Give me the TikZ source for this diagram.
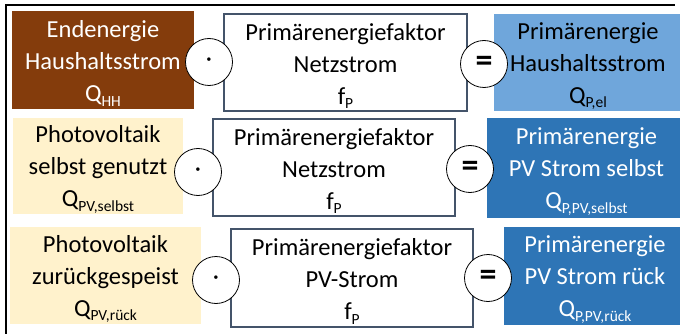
\documentclass[tikz,border=0pt]{standalone}
\usepackage{fontspec}
\setmainfont{Carlito}
\definecolor{brownbox}{HTML}{843C0C}
\definecolor{creambox}{HTML}{FFF2CC}
\definecolor{lightbluebox}{HTML}{6FA6DB}
\definecolor{bluebox}{HTML}{2E75B6}
\definecolor{frameline}{HTML}{44546A}
\newcommand\lowsub[1]{\raisebox{-4.5pt}{\fontsize{15.5}{15.5}\selectfont #1}}
\tikzset{
  box/.style={rectangle, inner sep=0pt},
  boxtext/.style={inner sep=0pt, align=center, font=\fontsize{24.5}{32}\selectfont},
  brownstyle/.style={box, fill=brownbox},
  creamstyle/.style={box, fill=creambox},
  lbluestyle/.style={box, fill=lightbluebox},
  bluestyle/.style={box, fill=bluebox},
  factorbox/.style={box, fill=white, draw=frameline, line width=1.1pt},
  opcircle/.style={circle, draw=black, fill=white, line width=0.8pt, minimum size=47pt, inner sep=0pt},
}
\begin{document}
\begin{tikzpicture}[x=1pt,y=-1pt]
\useasboundingbox (0,0) rectangle (680,334);
\clip (0,0) rectangle (680,334);
\fill[white] (0,0) rectangle (680,334);
% outer frame
\draw[line width=1.8pt] (6,345) -- (6,5) -- (675,5);
% Row 1
\node[brownstyle, minimum width=182pt, minimum height=98pt] (a1) at (103,60) {};
\node[boxtext, text=white] (a1t) at ([yshift=-3.5pt]a1.center) {Endenergie\\Haushaltsstrom\\Q\lowsub{HH}};
\node[factorbox, minimum width=243pt, minimum height=97pt] (b1) at (345.5,62.5) {};
\node[boxtext] (b1t) at ([yshift=-3.5pt]b1.center) {Primärenergiefaktor\\Netzstrom\\f\lowsub{P}};
\node[lbluestyle, minimum width=188pt, minimum height=97pt] (c1) at (588,62.5) {};
\node[boxtext] (c1t) at ([yshift=-3.5pt]c1.center) {Primärenergie\\Haushaltsstrom\\Q\lowsub{P,el}};
\node[opcircle] (m1) at (209,62) {\fontsize{24.5}{24.5}\selectfont ·};
\node[opcircle] (e1) at (484,64) {\fontsize{34}{34}\selectfont\bfseries =};
% Row 2
\node[creamstyle, minimum width=170pt, minimum height=96pt] (a2) at (98,166) {};
\node[boxtext] (a2t) at ([yshift=-3.5pt]a2.center) {Photovoltaik\\selbst genutzt\\Q\lowsub{PV,selbst}};
\node[factorbox, minimum width=242pt, minimum height=97pt] (b2) at (334,167.5) {};
\node[boxtext] (b2t) at ([yshift=-3.5pt]b2.center) {Primärenergiefaktor\\Netzstrom\\f\lowsub{P}};
\node[bluestyle, minimum width=199pt, minimum height=100pt] (c2) at (586.5,168) {};
\node[boxtext, text=white] (c2t) at ([yshift=-3.5pt]c2.center) {Primärenergie\\PV Strom selbst\\Q\lowsub{P,PV,selbst}};
\node[opcircle] (m2) at (198,172) {\fontsize{24.5}{24.5}\selectfont ·};
\node[opcircle] (e2) at (470,169) {\fontsize{34}{34}\selectfont\bfseries =};
% Row 3
\node[creamstyle, minimum width=191pt, minimum height=97pt] (a3) at (105.5,275.5) {};
\node[boxtext] (a3t) at ([yshift=-3.5pt]a3.center) {Photovoltaik\\zurückgespeist\\Q\lowsub{PV,rück}};
\node[factorbox, minimum width=242pt, minimum height=98pt] (b3) at (352,278) {};
\node[boxtext] (b3t) at ([yshift=-3.5pt]b3.center) {Primärenergiefaktor\\PV-Strom\\f\lowsub{P}};
\node[bluestyle, minimum width=182pt, minimum height=98pt] (c3) at (595,276) {};
\node[boxtext, text=white] (c3t) at ([yshift=-3.5pt]c3.center) {Primärenergie\\PV Strom rück\\Q\lowsub{P,PV,rück}};
\node[opcircle] (m3) at (216,280) {\fontsize{24.5}{24.5}\selectfont ·};
\node[opcircle] (e3) at (488,278) {\fontsize{34}{34}\selectfont\bfseries =};
\end{tikzpicture}
\end{document}
